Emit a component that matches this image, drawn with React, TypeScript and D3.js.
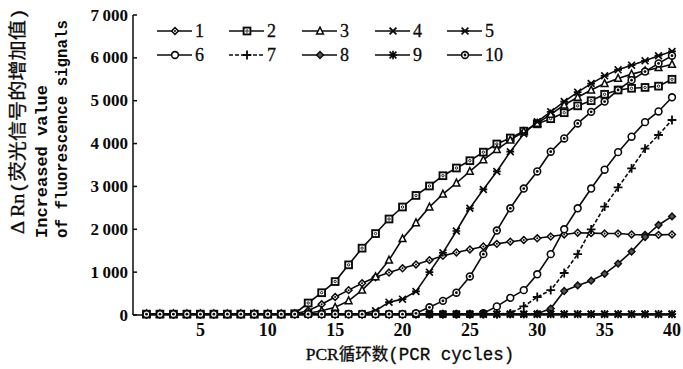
import React from 'react';
import * as d3 from 'd3';

const cycles = [1,2,3,4,5,6,7,8,9,10,11,12,13,14,15,16,17,18,19,20,21,22,23,24,25,26,27,28,29,30,31,32,33,34,35,36,37,38,39,40];
const yTicks = [0,1000,2000,3000,4000,5000,6000,7000];
const yTickLabels = ['0','1\u2009000','2\u2009000','3\u2009000','4\u2009000','5\u2009000','6\u2009000','7\u2009000'];
const xTicks = [5,10,15,20,25,30,35,40];
const seriesNames = ['1','2','3','4','5','6','7','8','9','10'];

const s1 = [20,20,20,20,20,20,20,20,20,20,20,30, 100,250,420,580,740,880,990,1090,1180,1280,1380,1460,1530,1600,1660,1710,1750,1790,1830,1880,1920,1910,1900,1900,1880,1870,1870,1880];
const s2 = [20,20,20,20,20,20,20,20,20,20,20,30, 280,520,780,1170,1560,1900,2240,2520,2790,3010,3250,3430,3600,3800,3990,4130,4290,4460,4580,4720,4880,5000,5150,5250,5290,5310,5340,5500];
const s3 = [20,20,20,20,20,20,20,20,20,20,20,20, 40,100,180,330,580,890,1280,1780,2150,2520,2820,3080,3350,3620,3860,4080,4280,4470,4680,4900,5080,5250,5400,5520,5620,5700,5770,5850];
const s4 = [20,20,20,20,20,20,20,20,20,20,20,20,20,20,20,20,20,20,20,20,20,20,20,20,20,20,20,20,20,20,20,20,20,20,20,20,20,20,20,20];
const s5 = [20,20,20,20,20,20,20,20,20,20,20,20,20,20,20,20,30, 100,300,370,550,1000,1450,1960,2490,2930,3350,3810,4230,4510,4740,4980,5200,5400,5580,5720,5830,5930,6050,6150];
const s6 = [20,20,20,20,20,20,20,20,20,20,20,20,20,20,20,20,20,20,20,20,20,20,20,20,20,40, 200,400,580,950,1420,2000,2490,2950,3390,3800,4160,4500,4750,5080];
const s7 = [20,20,20,20,20,20,20,20,20,20,20,20,20,20,20,20,20,20,20,20,20,20,20,20,20,20,20,40, 200,420,580,980,1420,2000,2530,2980,3420,3880,4200,4550];
const s8 = [20,20,20,20,20,20,20,20,20,20,20,20,20,20,20,20,20,20,20,20,20,20,20,20,20,20,20,20,20,30, 150,560,690,800,960,1200,1480,1820,2100,2300];
const s9 = [20,20,20,20,20,20,20,20,20,20,20,20,20,20,20,20,20,20,20,20,20,20,20,20,20,20,20,20,20,20,20,20,20,20,20,20,20,20,20,20];
const s10 = [20,20,20,20,20,20,20,20,20,20,20,20,20,20,20,20,20,20,20,20,40, 180,330,520,900,1420,1970,2490,2950,3350,3810,4120,4470,4740,4980,5250,5480,5680,5870,6050];

const seriesValues = [s1,s2,s3,s4,s5,s6,s7,s8,s9,s10];
const markerTypes = ['diamondDot','square','triangle','x','star','circle','plus','diamond','asterisk','circleDot'];
const dashed = [false,false,false,false,false,false,true,false,false,false];

const INK = '#0a0a0a';

function Marker({ type, x, y }: { type: string; x: number; y: number }) {
  const r = 3.4;
  const common = { stroke: INK, strokeWidth: 1.5, fill: '#fff' };
  let el: any = null;
  switch (type) {
    case 'diamondDot':
      el = (<g><path d={`M0,${-r}L${r},0L0,${r}L${-r},0Z`} {...common} /><circle r={1} fill={INK} /></g>);
      break;
    case 'square':
      el = (<g><rect x={-r} y={-r} width={2 * r} height={2 * r} {...common} strokeWidth={1.9} /><circle r={1.2} fill="none" stroke={INK} strokeWidth={0.9} /></g>);
      break;
    case 'triangle':
      el = (<path d={`M0,${-r - 0.5}L${r},${r - 0.5}L${-r},${r - 0.5}Z`} {...common} />);
      break;
    case 'x':
      el = (<path d={`M${-r},${-r}L${r},${r}M${-r},${r}L${r},${-r}`} stroke={INK} strokeWidth={1.9} />);
      break;
    case 'star':
      el = (<path d={`M${-r},${-r}L${r},${r}M${-r},${r}L${r},${-r}M${-r - 0.5},0L${r + 0.5},0`} stroke={INK} strokeWidth={1.7} />);
      break;
    case 'circle':
      el = (<circle r={r} {...common} strokeWidth={1.6} />);
      break;
    case 'plus':
      el = (<path d={`M${-r - 1},0L${r + 1},0M0,${-r - 1}L0,${r + 1}`} stroke={INK} strokeWidth={1.8} />);
      break;
    case 'diamond':
      el = (<path d={`M0,${-r}L${r},0L0,${r}L${-r},0Z`} stroke={INK} strokeWidth={1.4} fill="#555" />);
      break;
    case 'asterisk':
      el = (<path d={`M${-r},${-r}L${r},${r}M${-r},${r}L${r},${-r}M${-r - 0.8},0L${r + 0.8},0M0,${-r - 0.8}L0,${r + 0.8}`} stroke={INK} strokeWidth={1.7} />);
      break;
    case 'circleDot':
      el = (<g><circle r={r} {...common} strokeWidth={1.6} /><circle r={1.4} fill={INK} /></g>);
      break;
  }
  return <g transform={`translate(${x},${y})`}>{el}</g>;
}

export default function App() {
  const W = 683, H = 369;
  const x = d3.scaleLinear().domain([0, 40]).range([133, 672]);
  const y = d3.scaleLinear().domain([0, 7000]).range([315, 15]);
  const line = d3.line<number>().x((_, i) => x(cycles[i])).y((v) => y(v));

  const legendX = [157, 229, 302, 375, 447];
  const legendY = [31, 55];

  return (
    <svg width={W} height={H} viewBox={`0 0 ${W} ${H}`} style={{ position: 'absolute', left: 0, top: 0, background: '#fff' }}>
      <rect width={W} height={H} fill="#fff" />
      {/* axes */}
      <line x1={x(0)} x2={x(0)} y1={y(7000)} y2={y(0)} stroke={INK} strokeWidth={1.5} />
      <line x1={x(0)} x2={x(40)} y1={y(0)} y2={y(0)} stroke={INK} strokeWidth={1.5} />
      {yTicks.map((t, i) => (
        <g key={t}>
          <line x1={x(0)} x2={x(0) + 4} y1={y(t)} y2={y(t)} stroke={INK} strokeWidth={1.5} />
          <text x={128} y={y(t) + 5.5} textAnchor="end" fontFamily="'Liberation Serif', serif" fontWeight="bold" fontSize={17} fill={INK}>{yTickLabels[i]}</text>
        </g>
      ))}
      {xTicks.map((t) => (
        <text key={t} x={x(t)} y={336} textAnchor="middle" fontFamily="'Liberation Serif', serif" fontWeight="bold" fontSize={18} fill={INK}>{t}</text>
      ))}
      {/* axis titles */}
      <text x={410} y={360} textAnchor="middle" fontSize={17.5} fill={INK} stroke={INK} strokeWidth={0.3}>
        <tspan fontFamily="'Liberation Serif', serif">PCR</tspan>
        <tspan fontFamily="'Noto Sans CJK SC', sans-serif" fontSize={16.5}>循环数</tspan>
        <tspan fontFamily="'Liberation Mono', monospace">(PCR cycles)</tspan>
      </text>
      <g transform="translate(24,234) rotate(-90)">
        <text x={0} y={0} fontSize={18} fill={INK} stroke={INK} strokeWidth={0.3} textLength={226} lengthAdjust="spacingAndGlyphs">
          <tspan fontFamily="'Liberation Serif', serif">Δ Rn</tspan>
          <tspan fontFamily="'Liberation Mono', monospace">(</tspan>
          <tspan fontFamily="'Noto Sans CJK SC', sans-serif">荧光信号的增加值</tspan>
          <tspan fontFamily="'Liberation Mono', monospace">)</tspan>
        </text>
      </g>
      <g transform="translate(47,238) rotate(-90)">
        <text x={0} y={0} fontSize={17} fontFamily="'Liberation Mono', monospace" fontWeight="bold" fill={INK}>Increased value</text>
      </g>
      <g transform="translate(67,238) rotate(-90)">
        <text x={0} y={0} fontSize={16} fontFamily="'Liberation Mono', monospace" fontWeight="bold" fill={INK} textLength={218} lengthAdjust="spacingAndGlyphs">of fluorescence signals</text>
      </g>
      {/* series */}
      {seriesValues.map((vals, si) => (
        <g key={si}>
          <path d={line(vals) || ''} fill="none" stroke={INK} strokeWidth={1.6} strokeDasharray={dashed[si] ? '4,2' : undefined} />
          {vals.map((v, i) => (
            <Marker key={i} type={markerTypes[si]} x={x(cycles[i])} y={y(v)} />
          ))}
        </g>
      ))}
      {/* legend */}
      {seriesNames.map((name, i) => {
        const lx = legendX[i % 5];
        const ly = legendY[Math.floor(i / 5)];
        return (
          <g key={name}>
            <line x1={lx} x2={lx + 35} y1={ly} y2={ly} stroke={INK} strokeWidth={1.6} strokeDasharray={dashed[i] ? '4,2' : undefined} />
            <Marker type={markerTypes[i]} x={lx + 18} y={ly} />
            <text x={lx + 38} y={ly + 6} fontFamily="'Liberation Serif', serif" fontSize={18} fill={INK} stroke={INK} strokeWidth={0.3}>{name}</text>
          </g>
        );
      })}
    </svg>
  );
}
